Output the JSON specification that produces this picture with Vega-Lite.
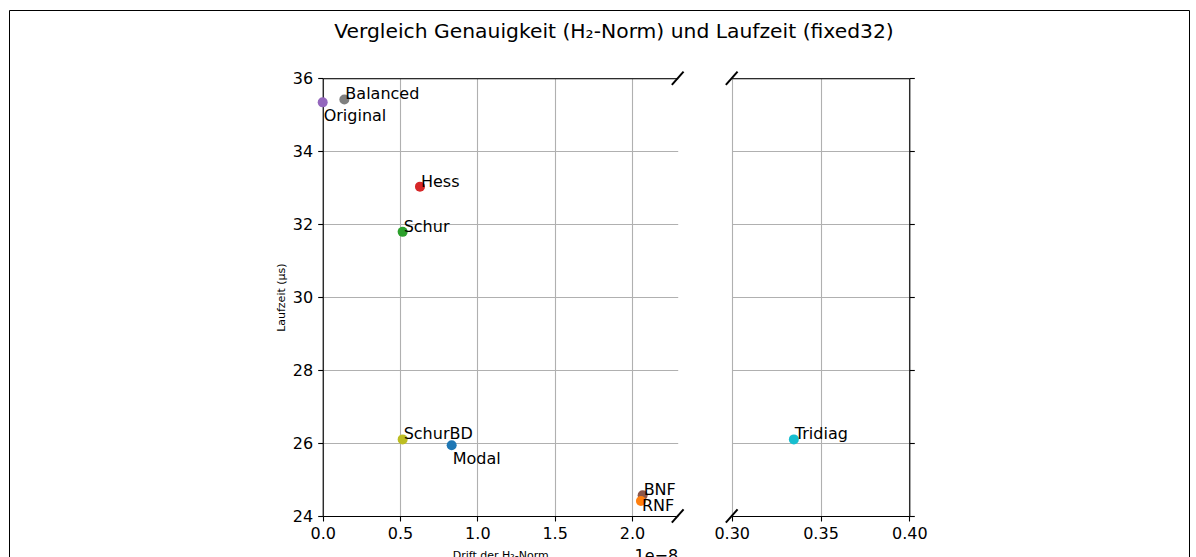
{
  "$schema": "https://vega.github.io/schema/vega-lite/v6.json",
  "width": 1180,
  "height": 560,
  "autosize": {"type": "none"},
  "padding": {"left": 9, "top": 10, "right": 7, "bottom": 0},
  "background": "#ffffff",
  "title": {
    "text": "Vergleich Genauigkeit (H₂-Norm) und Laufzeit (fixed32)",
    "font": "DejaVu Sans",
    "fontSize": 20.3,
    "fontWeight": "normal",
    "color": "#000000",
    "anchor": "middle",
    "frame": "group",
    "baseline": "alphabetic",
    "offset": 0,
    "dx": 15,
    "dy": 48
  },
  "config": {
    "font": "DejaVu Sans",
    "view": {"stroke": "#000000", "strokeWidth": 1},
    "axis": {
      "domain": true,
      "ticks": true,
      "domainColor": "#000000",
      "domainWidth": 1.1,
      "tickColor": "#000000",
      "tickWidth": 1.1,
      "tickSize": 5,
      "labelColor": "#000000",
      "labelFont": "DejaVu Sans",
      "labelFontSize": 16,
      "labelFlush": false,
      "labelOverlap": false,
      "labelBound": false,
      "titleColor": "#000000",
      "titleFont": "DejaVu Sans",
      "titleFontWeight": "normal",
      "gridColor": "#b0b0b0",
      "gridWidth": 1.1,
      "gridOpacity": 1
    }
  },
  "data": {
    "values": [
      {"method": "Modal", "drift": 0.834e-8, "runtime": 25.94},
      {"method": "Schur", "drift": 0.517e-8, "runtime": 31.79},
      {"method": "Hess", "drift": 0.629e-8, "runtime": 33.03},
      {"method": "Original", "drift": 0.0, "runtime": 35.34},
      {"method": "BNF", "drift": 2.069e-8, "runtime": 24.57},
      {"method": "RNF", "drift": 2.058e-8, "runtime": 24.41},
      {"method": "Balanced", "drift": 0.14e-8, "runtime": 35.42},
      {"method": "SchurBD", "drift": 0.517e-8, "runtime": 26.10},
      {"method": "Tridiag", "drift": 0.335, "runtime": 26.10}
    ]
  },
  "resolve": {
    "scale": {"x": "independent"},
    "axis": {"x": "independent", "y": "independent"}
  },
  "layer": [
    {
      "transform": [{"filter": "datum.drift < 1e-6"}],
      "resolve": {"axis": {"x": "independent"}},
      "layer": [
        {
          "mark": {"type": "point", "filled": true, "opacity": 1, "size": 100, "strokeWidth": 0},
          "encoding": {
            "x": {
              "field": "drift",
              "type": "quantitative",
              "scale": {"domain": [0, 2.2957e-8], "range": [313.7, 668.7], "zero": false, "nice": false},
              "axis": {
                "orient": "bottom",
                "offset": -54,
                "values": [0, 0.5e-8, 1e-8, 1.5e-8, 2e-8],
                "labelExpr": "format(datum.value * 1e8, '.1f')",
                "labelPadding": 4,
                "domain": true,
                "ticks": true,
                "labels": true,
                "grid": false,
                "title": "Drift der H₂-Norm",
                "titleFontSize": 11,
                "titlePadding": 8
              }
            },
            "y": {
              "field": "runtime",
              "type": "quantitative",
              "scale": {"domain": [24, 36], "range": [506, 68.3], "zero": false, "nice": false},
              "axis": {
                "orient": "left",
                "offset": -313.7,
                "values": [24, 26, 28, 30, 32, 34, 36],
                "labelPadding": 5,
                "domain": true,
                "ticks": true,
                "labels": true,
                "grid": true,
                "title": "Laufzeit (μs)",
                "titleFontSize": 11,
                "titlePadding": 6
              }
            },
            "color": {
              "field": "method",
              "type": "nominal",
              "scale": {
                "domain": ["Modal", "RNF", "Schur", "Hess", "Original", "BNF", "Balanced", "SchurBD", "Tridiag"],
                "range": ["#1f77b4", "#ff7f0e", "#2ca02c", "#d62728", "#9467bd", "#8c564b", "#7f7f7f", "#bcbd22", "#17becf"]
              },
              "legend": null
            }
          }
        },
        {
          "transform": [{"filter": {"field": "method", "oneOf": ["Balanced", "Hess", "Schur", "SchurBD", "BNF"]}}],
          "mark": {"type": "text", "align": "left", "baseline": "alphabetic", "dx": 1, "fontSize": 16, "font": "DejaVu Sans", "color": "#000000"},
          "encoding": {
            "x": {
              "field": "drift",
              "type": "quantitative",
              "axis": {"orient": "top", "offset": -68.3, "values": [0, 0.5e-8, 1e-8, 1.5e-8, 2e-8], "domain": true, "ticks": false, "labels": false, "grid": true, "title": null}
            },
            "y": {"field": "runtime", "type": "quantitative"},
            "text": {"field": "method"}
          }
        },
        {
          "transform": [{"filter": {"field": "method", "oneOf": ["Original", "Modal"]}}],
          "mark": {"type": "text", "align": "left", "baseline": "alphabetic", "dx": 1, "dy": 18.7, "fontSize": 16, "font": "DejaVu Sans", "color": "#000000"},
          "encoding": {
            "x": {"field": "drift", "type": "quantitative", "axis": null},
            "y": {"field": "runtime", "type": "quantitative"},
            "text": {"field": "method"}
          }
        },
        {
          "transform": [{"filter": {"field": "method", "equal": "RNF"}}],
          "mark": {"type": "text", "align": "left", "baseline": "alphabetic", "dx": 1, "dy": 9.5, "fontSize": 16, "font": "DejaVu Sans", "color": "#000000"},
          "encoding": {
            "x": {"field": "drift", "type": "quantitative", "axis": null},
            "y": {"field": "runtime", "type": "quantitative"},
            "text": {"field": "method"}
          }
        },
        {
          "data": {"values": [{}]},
          "mark": {"type": "point", "shape": "M-0.88,1L0.88,-1", "size": 177, "filled": false, "stroke": "#000000", "strokeWidth": 2, "opacity": 1},
          "encoding": {
            "x": {
              "datum": 2.2957e-8,
              "type": "quantitative",
              "axis": {"orient": "bottom", "offset": -54, "domain": false, "ticks": false, "labels": false, "grid": false, "title": "1e−8", "titleFontSize": 16, "titleAnchor": "end", "titlePadding": 31}
            },
            "y": {"datum": 36, "type": "quantitative"}
          }
        },
        {
          "data": {"values": [{}]},
          "mark": {"type": "point", "shape": "M-0.88,1L0.88,-1", "size": 177, "filled": false, "stroke": "#000000", "strokeWidth": 2, "opacity": 1},
          "encoding": {
            "x": {"datum": 2.2957e-8, "type": "quantitative", "axis": null},
            "y": {"datum": 24, "type": "quantitative"}
          }
        }
      ]
    },
    {
      "transform": [{"filter": "datum.drift > 0.1"}],
      "resolve": {"axis": {"x": "independent", "y": "independent"}},
      "layer": [
        {
          "mark": {"type": "point", "filled": true, "opacity": 1, "size": 100, "strokeWidth": 0},
          "encoding": {
            "x": {
              "field": "drift",
              "type": "quantitative",
              "scale": {"domain": [0.30, 0.40], "range": [722.7, 900.3], "zero": false, "nice": false},
              "axis": {
                "orient": "bottom",
                "offset": -54,
                "values": [0.30, 0.35, 0.40],
                "format": ".2f",
                "labelPadding": 4,
                "domain": true,
                "ticks": true,
                "labels": true,
                "grid": false,
                "title": null
              }
            },
            "y": {
              "field": "runtime",
              "type": "quantitative",
              "scale": {"domain": [24, 36], "range": [506, 68.3], "zero": false, "nice": false},
              "axis": {
                "orient": "right",
                "offset": -279.7,
                "values": [24, 26, 28, 30, 32, 34, 36],
                "domain": true,
                "ticks": true,
                "labels": false,
                "grid": false,
                "title": null
              }
            },
            "color": {
              "field": "method",
              "type": "nominal",
              "scale": {
                "domain": ["Modal", "RNF", "Schur", "Hess", "Original", "BNF", "Balanced", "SchurBD", "Tridiag"],
                "range": ["#1f77b4", "#ff7f0e", "#2ca02c", "#d62728", "#9467bd", "#8c564b", "#7f7f7f", "#bcbd22", "#17becf"]
              },
              "legend": null
            }
          }
        },
        {
          "mark": {"type": "text", "align": "left", "baseline": "alphabetic", "dx": 1, "fontSize": 16, "font": "DejaVu Sans", "color": "#000000"},
          "encoding": {
            "x": {
              "field": "drift",
              "type": "quantitative",
              "axis": {"orient": "top", "offset": -68.3, "values": [0.30, 0.35, 0.40], "domain": true, "ticks": false, "labels": false, "grid": true, "title": null}
            },
            "y": {
              "field": "runtime",
              "type": "quantitative",
              "axis": {"orient": "left", "offset": -722.7, "values": [24, 26, 28, 30, 32, 34, 36], "domain": false, "ticks": false, "labels": false, "grid": true, "title": null}
            },
            "text": {"field": "method"}
          }
        },
        {
          "data": {"values": [{}]},
          "mark": {"type": "point", "shape": "M-0.88,1L0.88,-1", "size": 177, "filled": false, "stroke": "#000000", "strokeWidth": 2, "opacity": 1},
          "encoding": {
            "x": {"datum": 0.30, "type": "quantitative", "axis": null},
            "y": {"datum": 36, "type": "quantitative", "axis": null}
          }
        },
        {
          "data": {"values": [{}]},
          "mark": {"type": "point", "shape": "M-0.88,1L0.88,-1", "size": 177, "filled": false, "stroke": "#000000", "strokeWidth": 2, "opacity": 1},
          "encoding": {
            "x": {"datum": 0.30, "type": "quantitative", "axis": null},
            "y": {"datum": 24, "type": "quantitative", "axis": null}
          }
        }
      ]
    }
  ]
}
